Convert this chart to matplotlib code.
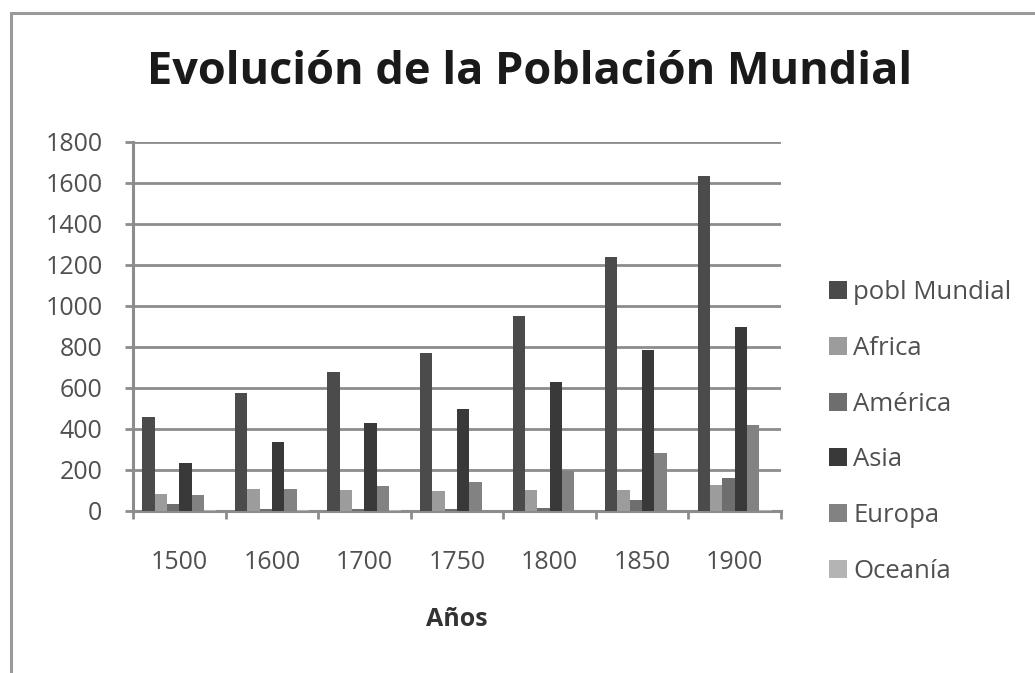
import numpy as np
import matplotlib
matplotlib.use("Agg")
import matplotlib.pyplot as plt
from matplotlib.patches import Rectangle

# data
years = ["1500", "1600", "1700", "1750", "1800", "1850", "1900"]
series = ["pobl Mundial", "Africa", "América", "Asia", "Europa", "Oceanía"]
pobl_mundial = [458, 573, 678, 768, 952, 1235, 1630]
africa = [84, 108, 100, 97, 100, 100, 128]
america = [34, 8, 12, 12, 16, 52, 160]
asia = [236, 336, 428, 498, 627, 783, 898]
europa = [80, 106, 124, 142, 197, 283, 420]
oceania = [3, 3, 3, 2, 2, 2, 6]

colors = ["#4b4b4b", "#9c9c9c", "#6e6e6e", "#393939", "#828282", "#b4b4b4"]
values = [pobl_mundial, africa, america, asia, europa, oceania]

plt.rcParams['font.family'] = ['Open Sans', 'DejaVu Sans']
txt = "#505050"
grid_c = "#8c8c8c"

fig = plt.figure(figsize=(10.35, 6.73), dpi=100)
fig.patch.set_facecolor("white")

# outer chart border (cut at the right and bottom in the reference)
fig.patches.append(Rectangle((11 / 1035, -0.05), 1.1, 1 - 13 / 673 + 0.05,
                             transform=fig.transFigure, fill=False,
                             edgecolor="#9a9a9a", linewidth=2.2))

ax = fig.add_axes([133 / 1035, 1 - 511 / 673, (781 - 133) / 1035, (511 - 141.5) / 673])

x = np.arange(len(years))
w = 0.8 / len(series)
for i, (name, vals, c) in enumerate(zip(series, values, colors)):
    ax.bar(x - 0.4 + w * (i + 0.5), vals, width=w, color=c, label=name, zorder=3)

ax.set_ylim(0, 1800)
ax.set_xlim(-0.5, len(years) - 0.5)
ax.set_yticks(np.arange(0, 1801, 200))
ax.yaxis.grid(True, color=grid_c, linewidth=2.0, zorder=0)
ax.set_axisbelow(True)

# category boundaries get the tick marks, centres get the labels
ax.set_xticks(np.arange(-0.5, len(years), 1.0))
ax.set_xticklabels([])
ax.set_xticks(x, minor=True)
ax.set_xticklabels(years, minor=True)
ax.tick_params(axis="x", which="major", direction="out", length=6, width=2, color=grid_c)
ax.tick_params(axis="x", which="minor", length=0, pad=28, labelsize=18, labelcolor=txt)
ax.tick_params(axis="y", direction="out", length=6, width=2, color=grid_c,
               pad=16, labelsize=18, labelcolor=txt)

for s in ["top", "right"]:
    ax.spines[s].set_visible(False)
for s in ["left", "bottom"]:
    ax.spines[s].set_color(grid_c)
    ax.spines[s].set_linewidth(2.2)

fig.text(530 / 1035, 1 - 72 / 673, "Evolución de la Población Mundial",
         ha="center", va="center", fontsize=32.5, fontweight="bold", color="#1a1a1a")
fig.text(457 / 1035, 1 - 620 / 673, "Años", ha="center", va="center",
         fontsize=18, fontweight="bold", color="#333333")

fig.legend(loc="center left", bbox_to_anchor=(829 / 1035, 1 - 432 / 673),
           frameon=False, fontsize=18.5, labelcolor=txt, handlelength=0.7,
           handleheight=0.7, handletextpad=0.25, labelspacing=1.2,
           borderpad=0, borderaxespad=0)

fig.savefig("out.png", dpi=100)
